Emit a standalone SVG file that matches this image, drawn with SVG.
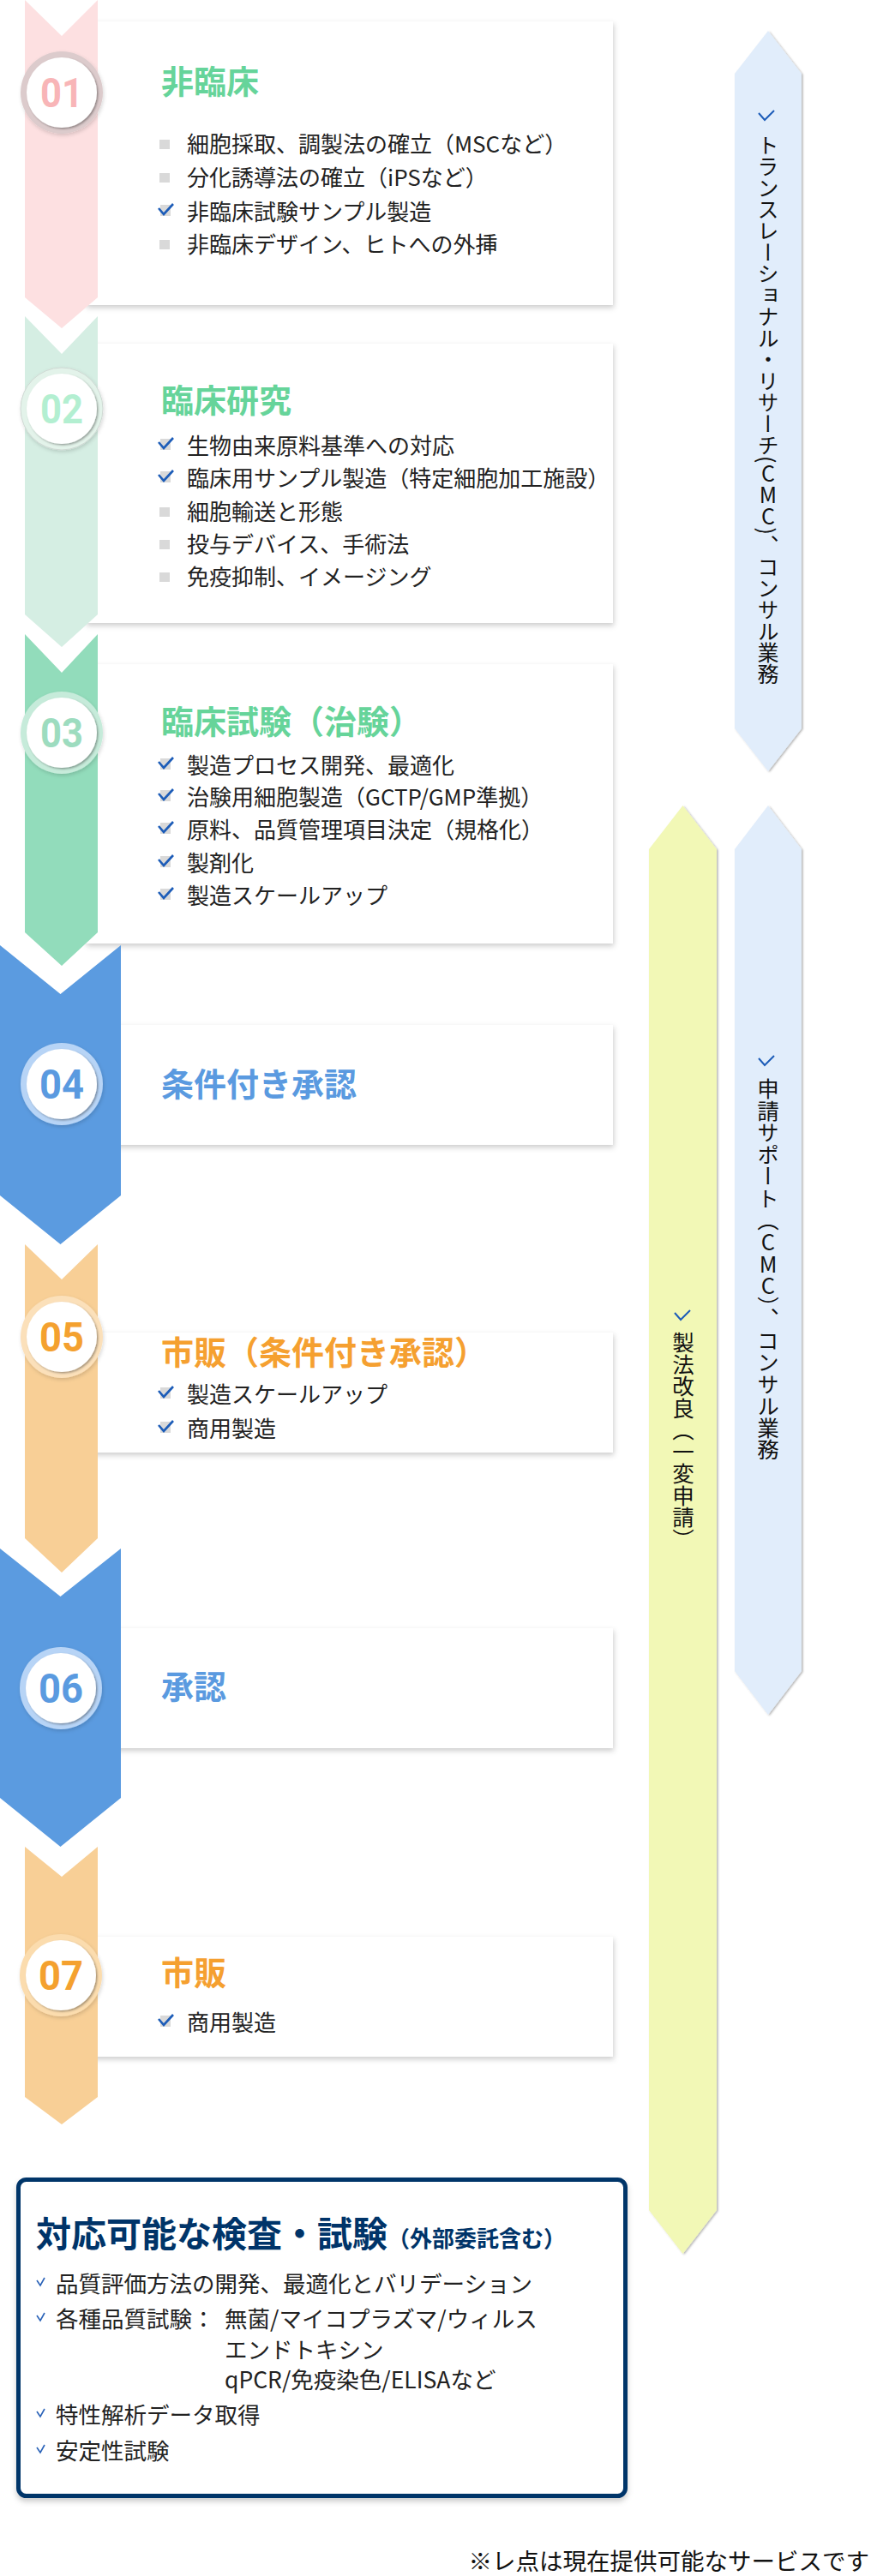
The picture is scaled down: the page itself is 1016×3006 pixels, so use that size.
<svg xmlns="http://www.w3.org/2000/svg" xmlns:xlink="http://www.w3.org/1999/xlink" width="1016" height="3006" viewBox="0 0 1016 3006">
<style>
.card{fill:#fff;filter:url(#cardShadow)}
.t{font-family:"Noto Sans CJK JP","Noto Sans",sans-serif;font-weight:700;font-size:38px}
.green{fill:#66d49a}.blue{fill:#5a9ae0}.orange{fill:#f5a030}
.it{font-family:"Noto Sans CJK JP","Noto Sans",sans-serif;font-size:26px;fill:#222}
.num{font-family:Roboto,"Liberation Sans",sans-serif;font-weight:700;font-size:48px;text-anchor:middle}
.inner{fill:#fff;filter:url(#innerShadow)}
.vt{font-family:"Noto Sans CJK JP","Noto Sans",sans-serif;font-size:25.5px;fill:#111;writing-mode:vertical-rl}
.up{text-orientation:upright}
.vchk{fill:none;stroke:#1c5cb8;stroke-width:2}
.bar{filter:url(#barShadow)}
.bx{font-family:"Noto Sans CJK JP","Noto Sans",sans-serif;font-size:26.5px;fill:#222}
.bchk{fill:none;stroke:#2a62b8;stroke-width:1.6}
</style>
<defs>
<filter id="cardShadow" x="-10%" y="-10%" width="120%" height="130%">
<feDropShadow dx="1" dy="3" stdDeviation="3" flood-color="#000" flood-opacity="0.2"/>
</filter>
<filter id="innerShadow" x="-20%" y="-20%" width="140%" height="140%">
<feDropShadow dx="1.5" dy="1.5" stdDeviation="1" flood-color="#000" flood-opacity="0.35"/>
</filter>
<filter id="ringShadow" x="-20%" y="-20%" width="140%" height="140%">
<feDropShadow dx="1" dy="2" stdDeviation="2" flood-color="#000" flood-opacity="0.15"/>
</filter>
<filter id="barShadow" x="-10%" y="-5%" width="120%" height="110%">
<feDropShadow dx="1.5" dy="1" stdDeviation="1" flood-color="#000" flood-opacity="0.3"/>
</filter>
<filter id="boxShadow" x="-5%" y="-5%" width="110%" height="115%">
<feDropShadow dx="0" dy="4" stdDeviation="3" flood-color="#000" flood-opacity="0.2"/>
</filter>
<g id="chk"><rect x="1" y="-8" width="12" height="13" fill="#d9d9d9"/><path d="M-1,-4 L5,3 L16,-9" fill="none" stroke="#1c5cb8" stroke-width="2.6"/></g>
<rect id="sq" x="0" y="-5" width="12" height="11" fill="#d9d9d9"/>
<path id="bchk" d="M0,-4 L4,2 L9,-7" class="bchk"/>
</defs>
<rect width="1016" height="3006" fill="#fff"/>

<g id="step01">
<rect class="card" x="100" y="25" width="615" height="331"/>
<polygon points="29,0 72,42 114,0 114,347 72,383 29,347" fill="#fde0e1"/>
<circle cx="72" cy="108" r="48" fill="#dccbcc" filter="url(#ringShadow)"/>
<circle class="inner" cx="72" cy="108" r="41"/>
<text class="num" x="72" y="125" fill="#f8b5b7" textLength="50" lengthAdjust="spacingAndGlyphs">01</text>
<text class="t green" x="188" y="109">非臨床</text>
<use href="#sq" x="186" y="168"/><text class="it" x="218" y="178">細胞採取、調製法の確立（MSCなど）</text>
<use href="#sq" x="186" y="207"/><text class="it" x="218" y="217">分化誘導法の確立（iPSなど）</text>
<use href="#chk" x="186" y="247"/><text class="it" x="218" y="257">非臨床試験サンプル製造</text>
<use href="#sq" x="186" y="285"/><text class="it" x="218" y="295">非臨床デザイン、ヒトへの外挿</text>
</g>

<g id="step02">
<rect class="card" x="100" y="401" width="615" height="326"/>
<polygon points="29,369 72,413 114,369 114,717 72,755 29,717" fill="#d5eee3"/>
<circle cx="72" cy="477" r="48" fill="#e3f3ea" stroke="#cfd8d3" stroke-width="1" filter="url(#ringShadow)"/>
<circle class="inner" cx="72" cy="477" r="41"/>
<text class="num" x="72" y="494" fill="#b3efd1" textLength="50" lengthAdjust="spacingAndGlyphs">02</text>
<text class="t green" x="188" y="481">臨床研究</text>
<use href="#chk" x="186" y="520"/><text class="it" x="218" y="530">生物由来原料基準への対応</text>
<use href="#chk" x="186" y="558"/><text class="it" x="218" y="568">臨床用サンプル製造（特定細胞加工施設）</text>
<use href="#sq" x="186" y="597"/><text class="it" x="218" y="607">細胞輸送と形態</text>
<use href="#sq" x="186" y="635"/><text class="it" x="218" y="645">投与デバイス、手術法</text>
<use href="#sq" x="186" y="673"/><text class="it" x="218" y="683">免疫抑制、イメージング</text>
</g>

<g id="step03">
<rect class="card" x="100" y="775" width="615" height="326"/>
<polygon points="29,740 72,785 114,740 114,1088 72,1127 29,1088" fill="#92dcbb"/>
<circle cx="72" cy="855" r="48" fill="#c6ebda" filter="url(#ringShadow)"/>
<circle class="inner" cx="72" cy="855" r="41"/>
<text class="num" x="72" y="872" fill="#9ddcbf" textLength="50" lengthAdjust="spacingAndGlyphs">03</text>
<text class="t green" x="188" y="856">臨床試験（治験）</text>
<use href="#chk" x="186" y="893"/><text class="it" x="218" y="903">製造プロセス開発、最適化</text>
<use href="#chk" x="186" y="930"/><text class="it" x="218" y="940">治験用細胞製造（GCTP/GMP準拠）</text>
<use href="#chk" x="186" y="968"/><text class="it" x="218" y="978">原料、品質管理項目決定（規格化）</text>
<use href="#chk" x="186" y="1007"/><text class="it" x="218" y="1017">製剤化</text>
<use href="#chk" x="186" y="1045"/><text class="it" x="218" y="1055">製造スケールアップ</text>
</g>

<g id="step04">
<rect class="card" x="100" y="1196" width="615" height="140"/>
<polygon points="0,1103 70.5,1160 141,1103 141,1395 70.5,1452 0,1395" fill="#5b9be0"/>
<circle cx="72" cy="1265" r="48" fill="#b7d4f6" filter="url(#ringShadow)"/>
<circle class="inner" cx="72" cy="1265" r="41"/>
<text class="num" x="72" y="1282" fill="#5a9ae0" textLength="52" lengthAdjust="spacingAndGlyphs">04</text>
<text class="t blue" x="188" y="1279">条件付き承認</text>
</g>

<g id="step05">
<rect class="card" x="100" y="1555" width="615" height="140"/>
<polygon points="29,1452 72,1493 114,1452 114,1795 72,1835 29,1795" fill="#f8cf96"/>
<circle cx="72" cy="1560" r="48" fill="#fbe0ba" filter="url(#ringShadow)"/>
<circle class="inner" cx="72" cy="1560" r="41"/>
<text class="num" x="72" y="1577" fill="#f4a12f" textLength="52" lengthAdjust="spacingAndGlyphs">05</text>
<text class="t orange" x="188" y="1592">市販（条件付き承認）</text>
<use href="#chk" x="186" y="1627"/><text class="it" x="218" y="1637">製造スケールアップ</text>
<use href="#chk" x="186" y="1667"/><text class="it" x="218" y="1677">商用製造</text>
</g>

<g id="step06">
<rect class="card" x="100" y="1900" width="615" height="140"/>
<polygon points="0,1807 70.5,1863 141,1807 141,2098 70.5,2155 0,2098" fill="#5b9be0"/>
<circle cx="71" cy="1970" r="48" fill="#b7d4f6" filter="url(#ringShadow)"/>
<circle class="inner" cx="71" cy="1970" r="41"/>
<text class="num" x="71" y="1987" fill="#5a9ae0" textLength="52" lengthAdjust="spacingAndGlyphs">06</text>
<text class="t blue" x="188" y="1982">承認</text>
</g>

<g id="step07">
<rect class="card" x="100" y="2260" width="615" height="140"/>
<polygon points="29,2155 72,2190 114,2155 114,2447 72,2479 29,2447" fill="#f8cf96"/>
<circle cx="71" cy="2305" r="48" fill="#fbdcae" filter="url(#ringShadow)"/>
<circle class="inner" cx="71" cy="2305" r="41"/>
<text class="num" x="71" y="2322" fill="#f4a12f" textLength="52" lengthAdjust="spacingAndGlyphs">07</text>
<text class="t orange" x="188" y="2316">市販</text>
<use href="#chk" x="186" y="2360"/><text class="it" x="218" y="2370">商用製造</text>
</g>

<g id="bar-translational">
<polygon class="bar" points="896,36 935,86 935,850 896,900 857,850 857,86" fill="#e1edfb"/>
<path class="vchk" d="M885,132 L892,140 L903,129"/>
<text class="vt" x="896" y="157" style="font-size:25px">トランスレーショナル・リサーチ(<tspan class="up">CMC</tspan>)、コンサル業務</text>
</g>

<g id="bar-application">
<polygon class="bar" points="896,940 935,991 935,1950 896,2001 857,1950 857,991" fill="#e1edfb"/>
<path class="vchk" d="M885,1235 L892,1243 L903,1232"/>
<text class="vt" x="896" y="1258">申請サポート（<tspan class="up">CMC</tspan>）、コンサル業務</text>
</g>

<g id="bar-process">
<polygon class="bar" points="796.5,940 836,991 836,2579 796.5,2630 757,2579 757,991" fill="#f2f8b6"/>
<path class="vchk" d="M787,1532 L794,1540 L805,1529"/>
<text class="vt" x="797" y="1554">製法改良（一変申請）</text>
</g>

<g id="tests-box">
<rect x="21.5" y="2543.5" width="708" height="369" rx="9" fill="#fff" stroke="#003469" stroke-width="5" filter="url(#boxShadow)"/>
<text x="42" y="2622" font-family="'Noto Sans CJK JP','Noto Sans',sans-serif" font-weight="700" font-size="41" fill="#003469">対応可能な検査・試験<tspan font-size="26">（外部委託含む）</tspan></text>
<use href="#bchk" x="43" y="2665"/><text class="bx" x="65" y="2675">品質評価方法の開発、最適化とバリデーション</text>
<use href="#bchk" x="43" y="2706"/><text class="bx" x="65" y="2716">各種品質試験：<tspan x="262">無菌/マイコプラズマ/ウィルス</tspan></text>
<text class="bx" x="262" y="2752">エンドトキシン</text>
<text class="bx" x="262" y="2787">qPCR/免疫染色/ELISAなど</text>
<use href="#bchk" x="43" y="2818"/><text class="bx" x="65" y="2828">特性解析データ取得</text>
<use href="#bchk" x="43" y="2860"/><text class="bx" x="65" y="2870">安定性試験</text>
</g>

<text id="footnote" x="1014" y="2999" text-anchor="end" font-family="'Noto Sans CJK JP','Noto Sans',sans-serif" font-size="27.5" fill="#111">※レ点は現在提供可能なサービスです</text>
</svg>
